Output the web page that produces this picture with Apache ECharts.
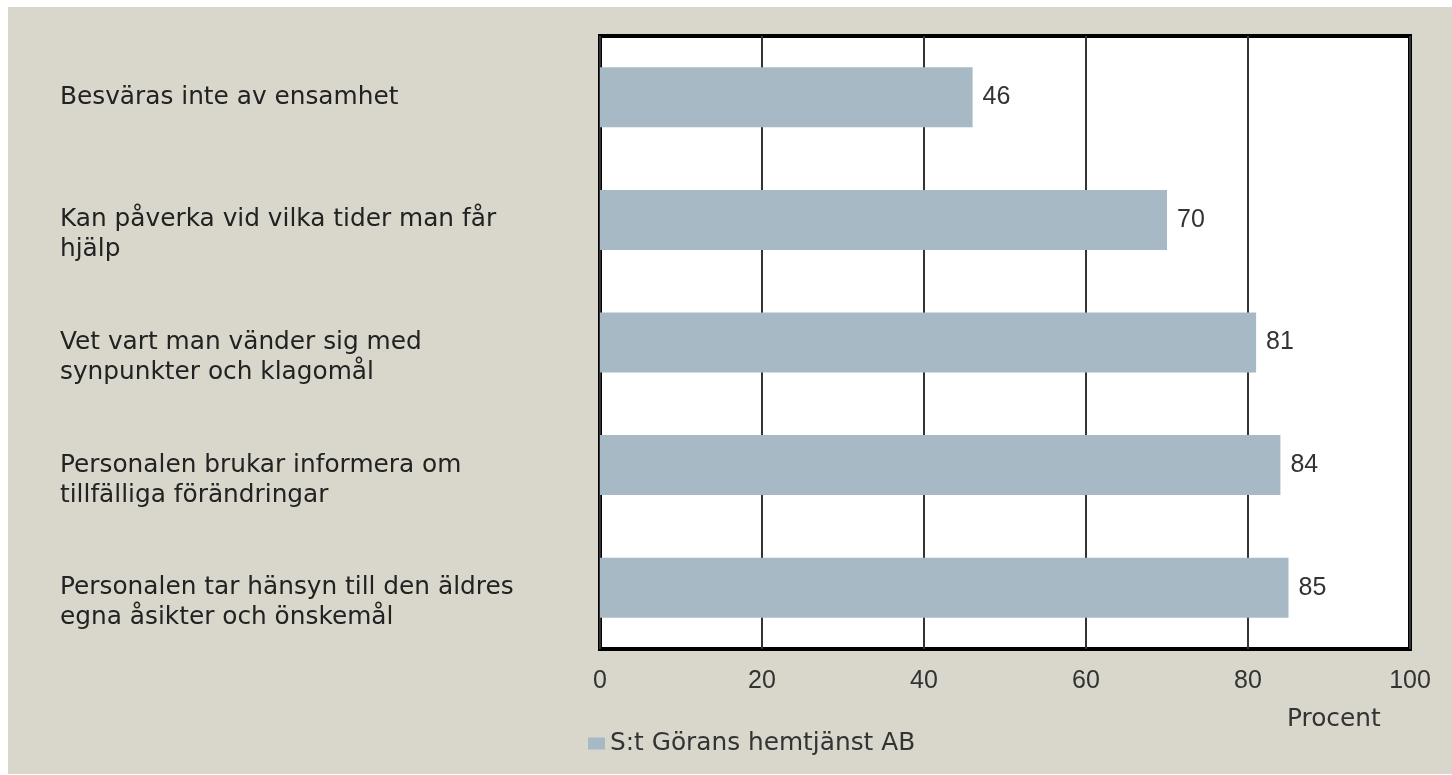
<!DOCTYPE html>
<html>
<head>
<meta charset="utf-8">
<script src="https://cdn.jsdelivr.net/npm/echarts@6/dist/echarts.min.js"></script>
<style>
  html, body { margin: 0; padding: 0; background: #fff; }
  #echart-bar { position: absolute; left: 8px; top: 7px; width: 1444px; height: 767px; }
</style>
</head>
<body>
<div id="echart-bar"></div>
<script>
// data
var categories = [
  'Besväras inte av ensamhet',
  'Kan påverka vid vilka tider man får\nhjälp',
  'Vet vart man vänder sig med\nsynpunkter och klagomål',
  'Personalen brukar informera om\ntillfälliga förändringar',
  'Personalen tar hänsyn till den äldres\negna åsikter och önskemål'
];
var values = [46, 70, 81, 84, 85];
var seriesName = 'S:t Görans hemtjänst AB';
var axisName = 'Procent';

var textFont = 'DejaVu Sans';
var numFont = 'Arial';

var chart = echarts.init(document.getElementById('echart-bar'));
var option = {
  backgroundColor: '#d9d6cb',
  animation: false,
  title: {
    text: axisName,
    left: 1279,
    top: 700,
    padding: 0,
    textStyle: { fontFamily: textFont, fontSize: 24.8, fontWeight: 'normal', color: '#333' }
  },
  legend: {
    data: [seriesName],
    left: 580,
    top: 724,
    padding: 0,
    icon: 'rect',
    itemWidth: 17,
    itemHeight: 12,
    itemGap: 7,
    textStyle: { fontFamily: textFont, fontSize: 24.8, color: '#333' }
  },
  grid: {
    left: 592,
    top: 29,
    width: 810,
    height: 613,
    show: true,
    backgroundColor: '#fff',
    borderColor: '#000',
    borderWidth: 4,
    containLabel: false
  },
  xAxis: {
    type: 'value',
    min: 0,
    max: 100,
    interval: 20,
    axisLine: { show: false },
    axisTick: { show: false },
    splitLine: { lineStyle: { color: '#333', width: 2 } },
    axisLabel: { fontFamily: numFont, fontSize: 25, color: '#333', margin: 20 }
  },
  yAxis: {
    type: 'category',
    inverse: true,
    data: categories,
    axisLine: { show: false },
    axisTick: { show: false },
    splitLine: { show: false },
    axisLabel: {
      align: 'left',
      margin: 540,
      fontFamily: textFont,
      fontSize: 24.8,
      lineHeight: 30,
      padding: [6, 0, 0, 0],
      color: '#222',
      // first line sits level with the bar, second line below it
      formatter: function (v) {
        return v.indexOf('\n') >= 0 ? '\n' + v : v;
      }
    }
  },
  series: [
    {
      name: seriesName,
      type: 'bar',
      data: values,
      barWidth: 60,
      itemStyle: { color: '#a6b9c4' },
      label: {
        show: true,
        position: 'right',
        distance: 10,
        fontFamily: numFont,
        fontSize: 25,
        color: '#333'
      }
    }
  ]
};
chart.setOption(option);
window.addEventListener('resize', function () { chart.resize(); });
</script>
</body>
</html>
